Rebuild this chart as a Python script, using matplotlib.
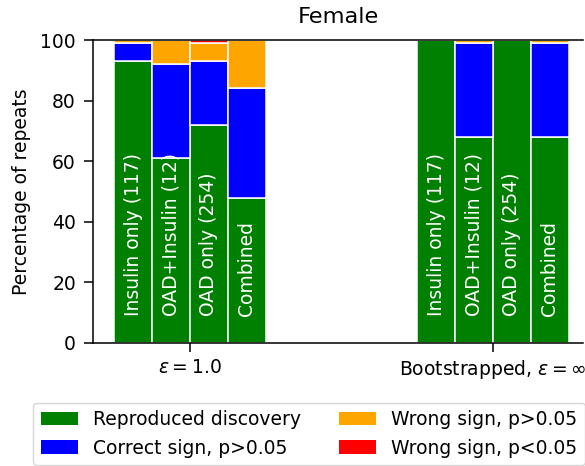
import matplotlib
matplotlib.use("Agg")
import matplotlib.pyplot as plt
import numpy as np
from matplotlib.patches import Patch

groups = [r"$\epsilon = 1.0$", r"Bootstrapped, $\epsilon = \infty$"]
subsets = ["Insulin only (117)", "OAD+Insulin (12)", "OAD only (254)", "Combined"]
categories = ["Reproduced discovery", "Correct sign, p>0.05", "Wrong sign, p>0.05", "Wrong sign, p<0.05"]
colors = ["green", "blue", "orange", "red"]

# values per group, per subset: [reproduced, correct sign ns, wrong sign ns, wrong sign sig]
reproduced = [[93, 61, 72, 48], [100, 68, 100, 68]]
correct_ns = [[6, 31, 21, 36], [0, 31, 0, 31]]
wrong_ns = [[1, 8, 6, 16], [0, 1, 0, 1]]
wrong_sig = [[0, 0, 1, 0], [0, 0, 0, 0]]

fs = 13.5
plt.rcParams.update({
    "axes.linewidth": 1.1,
    "xtick.major.width": 1.1,
    "ytick.major.width": 1.1,
    "xtick.major.size": 6.2,
    "ytick.major.size": 6.5,
    "xtick.major.pad": 4.7,
    "ytick.major.pad": 5.8,
})

fig = plt.figure(figsize=(5.85, 4.66), dpi=100)
ax = fig.add_axes([93/585, (466-343)/466, (583-93)/585, (343-40)/466])

width = 0.125
offsets = np.array([-1.5, -0.5, 0.5, 1.5]) * width
series = [reproduced, correct_ns, wrong_ns, wrong_sig]
for g in range(len(groups)):
    bottom = np.zeros(len(subsets))
    for s, col in zip(series, colors):
        vals = np.array(s[g], dtype=float)
        ax.bar(g + offsets, vals, width, bottom=bottom, color=col, edgecolor="white", linewidth=1.1)
        bottom += vals
    for i, name in enumerate(subsets):
        ax.text(g + offsets[i], 9, name, rotation=90, ha="center", va="bottom",
                color="white", fontsize=fs)

ax.set_xlim(-0.32, 1.297)
ax.set_ylim(0, 100)
ax.set_xticks(range(len(groups)))
ax.set_xticklabels(groups, fontsize=fs)
ax.set_yticks([0, 20, 40, 60, 80, 100])
ax.tick_params(axis="y", labelsize=fs)
ax.set_ylabel("Percentage of repeats", fontsize=fs, labelpad=7)
ax.set_title("Female", fontsize=16.2, pad=12)
ax.spines["right"].set_visible(False)

handles = [Patch(facecolor=c, label=l) for c, l in zip(colors, categories)]
fig.legend(handles=handles, ncol=2, fontsize=fs, loc="lower left",
           bbox_to_anchor=(33/585, 1/466), borderaxespad=0, columnspacing=2.0)

fig.savefig("out.png", dpi=100)
